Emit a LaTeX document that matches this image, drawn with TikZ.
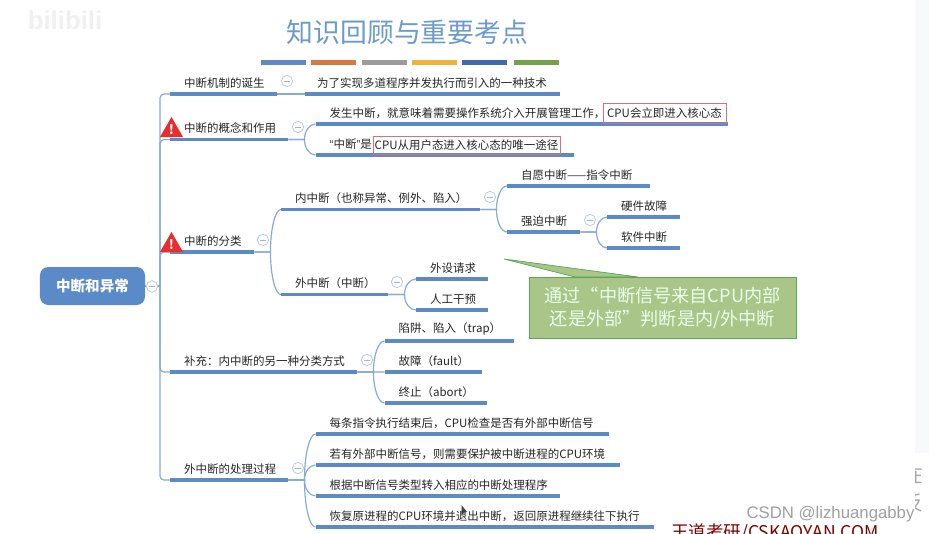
\documentclass[tikz,border=0pt]{standalone}
\usepackage{fontspec}
\usetikzlibrary{calc}
\setmainfont{Noto Sans CJK SC}
\newfontfamily\latinfont{Liberation Sans}

\definecolor{titleblue}{HTML}{6C9BCB}
\definecolor{rootblue}{HTML}{5A8AC8}
\definecolor{lineblue}{HTML}{5B8AC6}
\definecolor{linkblue}{HTML}{86A9D6}
\definecolor{foldblue}{HTML}{B9CBE3}
\definecolor{boxred}{HTML}{D8707A}
\definecolor{warnred}{HTML}{E92C2C}
\definecolor{notegreen}{HTML}{A9C587}
\definecolor{sidegray}{HTML}{F7F9FB}
\definecolor{barorange}{HTML}{D9773F}
\definecolor{bargray}{HTML}{9C9C9C}
\definecolor{baryellow}{HTML}{EFB23A}
\definecolor{barblue}{HTML}{4169AE}
\definecolor{bargreen}{HTML}{72A34C}

\tikzset{
  topicnode/.style={anchor=south west, inner xsep=0pt, inner ysep=0.16cm,
    text width=#1*0.03cm, align=left, text=black!85, font=\fontsize{9.8pt}{11pt}\selectfont,
    execute at begin node={\hspace*{0.42cm}},
    append after command={(\tikzlastnode.south west) edge[underline] (\tikzlastnode.south east)}},
  underline/.style={draw=lineblue, line width=2.6pt},
  link/.style={draw=linkblue, line width=1pt},
  foldnode/.style={circle, draw=foldblue, fill=white, line width=0.7pt, inner sep=0pt,
    minimum size=0.34cm,
    path picture={\draw[foldblue!70!gray, line width=0.8pt]
      ([xshift=-0.09cm]path picture bounding box.center) -- ([xshift=0.09cm]path picture bounding box.center);}},
  redbox/.style={draw=boxred, line width=0.7pt, inner sep=0pt, text=black!85,
    font=\fontsize{9.8pt}{11pt}\selectfont},
  colorbar/.style={line width=4pt},
  sidetext/.style={text=gray!70, inner sep=0pt, font=\fontsize{17pt}{17pt}\selectfont},
}

% horizontal stub, then a bend into the child
\newcommand{\forklink}[2]{%
  \draw[link] (#1.south east) -- ++(16,0) coordinate (bend)
    .. controls ($(bend)!0.55!(bend |- #2.south west)$) and ($(#2.south west)!0.55!(bend |- #2.south west)$)
    .. (#2.south west);}
% warning sign
\newcommand{\warnsign}[3]{%
  \fill[warnred] (#2-11.5,#3+10) -- (#2,#3-10) -- (#2+11.5,#3+10) -- cycle;
  \node[text=white, inner sep=0pt, font=\fontsize{11pt}{11pt}\bfseries\selectfont] (#1) at (#2,#3+3) {!};}

\begin{document}
\begin{tikzpicture}[x=0.03cm,y=-0.03cm]
\useasboundingbox (0,0) rectangle (929,533);

% Window behind the slide
\fill[white] (0,0) rectangle (929,533);
\fill[sidegray] (915,0) rectangle (929,453);
\node[sidetext] (sideA) at (913,475) {在};
\node[sidetext] (sideB) at (913,503) {反};
\fill[white] (0,0) rectangle (915,533);

% Logo and title
\node[text=black!6, font=\fontsize{22pt}{22pt}\bfseries\latinfont] (logo) at (65,20) {bilibili};
\node[text=titleblue, font=\fontsize{22.9pt}{24pt}\selectfont] (title) at (407.5,32) {知识回顾与重要考点};

% Colour bars
\draw[colorbar, draw=lineblue] (261,62.5) -- (306,62.5);
\draw[colorbar, draw=barorange] (311,62.5) -- (356,62.5);
\draw[colorbar, draw=bargray] (362,62.5) -- (407,62.5);
\draw[colorbar, draw=baryellow] (412,62.5) -- (457,62.5);
\draw[colorbar, draw=barblue] (462,62.5) -- (507,62.5);
\draw[colorbar, draw=bargreen] (514,62.5) -- (559,62.5);

% Root
\node[fill=rootblue, rounded corners=0.25cm, minimum width=3.15cm, minimum height=1.14cm,
  text=white, font=\fontsize{12.4pt}{13pt}\bfseries\selectfont] (root) at (92.5,286) {中断和异常};
\coordinate (trunk) at (160,286);

% First level
\node[topicnode=107] (birth) at (170,94) {中断机制的诞生};
\node[topicnode=118] (concept) at (170,139.5) {中断的概念和作用};
\node[topicnode=84] (classify) at (170,252) {中断的分类};
\node[topicnode=187] (extra) at (170,372) {补充：内中断的另一种分类方式};
\node[topicnode=118] (process) at (170,480) {外中断的处理过程};

% Second level
\node[topicnode=255] (birthA) at (305,94) {\hspace*{-0.06cm}为了实现多道程序并发执行而引入的一种技术};
\node[topicnode=412.5] (conceptA) at (315.5,124) {发生中断，就意味着需要操作系统介入开展管理工作，};
\node[topicnode=258.5] (conceptB) at (315.5,155) {{\latinfont “}中断{\latinfont ”}是};
\node[topicnode=199] (inner) at (281,209.5) {内中断（也称异常、例外、陷入）};
\node[topicnode=107] (outer) at (281,294.5) {外中断（中断）};
\node[topicnode=143] (voluntary) at (507,186) {自愿中断——指令中断};
\node[topicnode=73] (forced) at (507,232) {强迫中断};
\node[topicnode=73] (hardware) at (607,217) {硬件故障};
\node[topicnode=73] (software) at (607,248) {软件中断};
\node[topicnode=72] (device) at (416,279) {外设请求};
\node[topicnode=72] (manual) at (416,310) {人工干预};
\node[topicnode=129.5] (trap) at (384.5,341) {陷阱、陷入（trap）};
\node[topicnode=97.5] (fault) at (384.5,372) {故障（fault）};
\node[topicnode=102.5] (abort) at (384.5,403) {终止（abort）};
\node[topicnode=293.5] (stepA) at (315.5,434) {每条指令执行结束后，CPU检查是否有外部中断信号};
\node[topicnode=304.5] (stepB) at (315.5,465) {若有外部中断信号，则需要保护被中断进程的CPU环境};
\node[topicnode=244.5] (stepC) at (315.5,496) {根据中断信号类型转入相应的中断处理程序};
\node[topicnode=338.5] (stepD) at (315.5,527) {恢复原进程的CPU环境并退出中断，返回原进程继续往下执行};

% Red boxes
\node[redbox, minimum width=3.69cm, minimum height=0.6cm] (cpuEnter) at (664.5,113) {CPU会立即进入核心态};
\node[redbox, minimum width=5.61cm, minimum height=0.54cm] (cpuOnly) at (466.5,145) {CPU从用户态进入核心态的唯一途径};

% Connectors
\draw[link] (root.east) -- (trunk);
\draw[link, rounded corners=0.12cm] (trunk) |- (birth.south west);
\draw[link, rounded corners=0.12cm] (trunk) |- (concept.south west);
\draw[link, rounded corners=0.12cm] (trunk) |- (classify.south west);
\draw[link, rounded corners=0.12cm] (trunk) |- (extra.south west);
\draw[link, rounded corners=0.12cm] (trunk) |- (process.south west);
\draw[link] (birth.south east) -- (birthA.south west);
\forklink{concept}{conceptA}
\forklink{concept}{conceptB}
\forklink{classify}{inner}
\forklink{classify}{outer}
\forklink{inner}{voluntary}
\forklink{inner}{forced}
\forklink{forced}{hardware}
\forklink{forced}{software}
\forklink{outer}{device}
\forklink{outer}{manual}
\forklink{extra}{trap}
\forklink{extra}{fault}
\forklink{extra}{abort}
\forklink{process}{stepA}
\forklink{process}{stepB}
\forklink{process}{stepC}
\forklink{process}{stepD}

% Fold marks
\node[foldnode] (foldRoot) at (152,286.5) {};
\node[foldnode] (foldBirth) at (287,81) {};
\node[foldnode] (foldConcept) at (298,127) {};
\node[foldnode] (foldClassify) at (263,240) {};
\node[foldnode] (foldInner) at (490,197) {};
\node[foldnode] (foldForced) at (590,220) {};
\node[foldnode] (foldOuter) at (397,282) {};
\node[foldnode] (foldExtra) at (367,360) {};
\node[foldnode] (foldProcess) at (298,468) {};

% Warning signs
\warnsign{warnConcept}{171.5}{127}
\warnsign{warnClassify}{171.5}{242}

% Green note
\coordinate (noteTip) at (504,259);
\coordinate (noteBaseL) at (575,277);
\coordinate (noteBaseR) at (638,277);
\filldraw[fill=notegreen, draw=gray!70!green, line width=0.6pt] (noteTip) -- (noteBaseL) -- (noteBaseR) -- cycle;
\node[fill=notegreen, draw=gray!70!green, line width=0.6pt, minimum width=8.01cm, minimum height=1.83cm,
  text=white!92!green, align=center, font=\fontsize{15.5pt}{19.6pt}\selectfont] (note) at (662.5,307.5)
  {通过“中断信号来自CPU内部\\还是外部”判断是内/外中断};

% Mouse pointer
\fill[black!75] (461.5,505) -- (461.5,515) -- (464,512.5) -- (467,512) -- cycle;

% Watermarks
\node[text=gray!75, inner sep=0pt, font=\fontsize{14.3pt}{15pt}\latinfont] (csdn) at (830.5,514) {CSDN @lizhuangabby};
\node[text=red!50!black, inner sep=0pt, font=\fontsize{15pt}{16pt}\selectfont] (wangdao) at (775,533) {王道考研/CSKAOYAN.COM};
\end{tikzpicture}
\end{document}
